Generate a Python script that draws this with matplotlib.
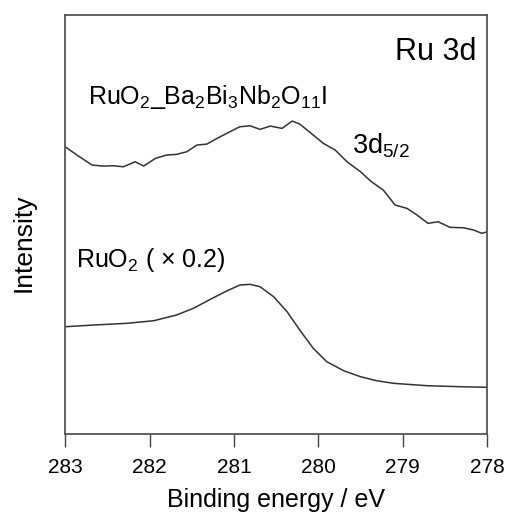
import matplotlib
matplotlib.use("Agg")
import matplotlib.pyplot as plt

plt.rcParams["font.family"] = ["Liberation Sans", "DejaVu Sans"]
plt.rcParams["mathtext.fontset"] = "custom"
plt.rcParams["mathtext.rm"] = "Liberation Sans"
plt.rcParams["mathtext.it"] = "Liberation Sans:italic"
plt.rcParams["mathtext.bf"] = "Liberation Sans:bold"

# RuO2_Ba2Bi3Nb2O11I (upper trace), arbitrary intensity units
comp_energy = [283.00, 282.86, 282.68, 282.55, 282.43, 282.31, 282.17, 282.07,
               281.93, 281.80, 281.68, 281.56, 281.44, 281.32, 281.20, 281.05,
               280.93, 280.81, 280.69, 280.57, 280.43, 280.31, 280.22, 280.06,
               279.94, 279.80, 279.66, 279.50, 279.37, 279.23, 279.09, 278.95,
               278.83, 278.70, 278.58, 278.44, 278.28, 278.16, 278.06, 278.00]
comp_int = [287.3, 279.0, 269.0, 268.0, 268.3, 267.3, 272.3, 268.0,
            275.7, 279.0, 279.7, 282.3, 289.0, 290.0, 295.7, 302.3,
            307.3, 308.3, 304.7, 308.0, 305.7, 313.0, 310.0, 299.0,
            290.7, 284.0, 272.3, 262.3, 252.3, 244.0, 229.0, 225.7,
            219.0, 210.7, 212.3, 206.7, 206.3, 204.0, 200.7, 202.3]

# RuO2 reference (x0.2, lower trace)
ruo2_energy = [283.00, 282.66, 282.27, 281.95, 281.68, 281.48, 281.28, 281.08,
               280.93, 280.81, 280.69, 280.53, 280.37, 280.22, 280.06, 279.90,
               279.70, 279.50, 279.31, 279.11, 278.71, 278.32, 278.00]
ruo2_int = [107.3, 109.0, 110.7, 113.3, 119.0, 125.7, 134.7, 143.3,
            149.0, 149.7, 147.3, 137.3, 122.3, 104.0, 85.7, 72.3,
            63.3, 57.3, 53.3, 50.7, 48.3, 47.3, 46.7]

xticks = [283, 282, 281, 280, 279, 278]

fig = plt.figure(figsize=(5.09, 5.21), dpi=100)
ax = fig.add_axes([0.128, 0.167, 0.829, 0.804])

ax.plot(comp_energy, comp_int, color="#333333", lw=1.1)
ax.plot(ruo2_energy, ruo2_int, color="#333333", lw=1.1)

ax.set_xlim(283, 278)
ax.set_ylim(0, 419)
ax.set_xticks(xticks)
ax.set_xticklabels([str(t) for t in xticks], fontsize=15)
ax.set_yticks([])
ax.tick_params(axis="x", direction="out", length=9, width=1.0, color="#444444", pad=8)
for s in ax.spines.values():
    s.set_color("#555555")
    s.set_linewidth(1.3)

ax.set_xlabel("Binding energy / eV", fontsize=18, labelpad=8)
fig.text(24 / 509, 1 - 243 / 521, "Intensity", rotation=90, ha="center",
         va="center", fontsize=19)

ax.text(0.975, 0.912, "Ru 3d", transform=ax.transAxes, ha="right", va="center",
        fontsize=22)
ax.text(0.053, 0.804, "RuO$_2$_Ba$_2$Bi$_3$Nb$_2$O$_{11}$I", transform=ax.transAxes,
        ha="left", va="center", fontsize=18)
ax.text(0.68, 0.687, "3d$_{5/2}$", transform=ax.transAxes, ha="left", va="center",
        fontsize=19.5)
ax.text(0.026, 0.415, "RuO$_2$ ( × 0.2)", transform=ax.transAxes, ha="left",
        va="center", fontsize=18)

fig.savefig("out.png", dpi=100)
